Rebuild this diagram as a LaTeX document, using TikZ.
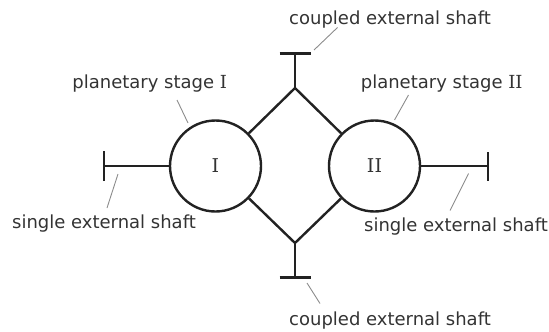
\documentclass[tikz,border=0pt]{standalone}
\usepackage{fontspec}
\setmainfont{DejaVu Sans}
\newfontfamily\numeralfont{DejaVu Serif}
\newcommand\RomI{{\numeralfont I}}
\definecolor{inkdark}{HTML}{222222}
\definecolor{textgray}{HTML}{333333}
\definecolor{leadergray}{HTML}{8C8C8C}
\begin{document}
\begin{tikzpicture}[x=1pt,y=-1pt,
  shaftline/.style={draw=inkdark,line width=2.4pt},
  stage/.style={circle,draw=inkdark,line width=2.4pt,minimum size=91pt,inner sep=0pt,
    text=textgray,font=\numeralfont\fontsize{19}{21}\selectfont},
  tag/.style={anchor=base,text=textgray,inner sep=0pt,font=\fontsize{18}{20}\selectfont},
  leader/.style={draw=leadergray,line width=0.9pt}]
\useasboundingbox (0,0) rectangle (549,332);

% the two planetary stages
\node[stage] (s1) at (215.5,166) {I};
\node[stage] (s2) at (374.5,166) {II};

% coupling points of the diamond
\coordinate (top) at (295,88);
\coordinate (bot) at (295,243);
\draw[shaftline] (s1) -- (top) -- (s2);
\draw[shaftline] (s1) -- (bot) -- (s2);

% coupled external shafts
\coordinate (topend) at (295,53.5);
\coordinate (botend) at (295,277.5);
\draw[shaftline] (top) -- (topend);
\draw[shaftline] (bot) -- (botend);
\draw[shaftline] ([xshift=-15.5pt]topend) -- ([xshift=16pt]topend);
\draw[shaftline] ([xshift=-15.5pt]botend) -- ([xshift=16pt]botend);

% single external shafts
\coordinate (leftend) at (104,166);
\coordinate (rightend) at (488,166);
\draw[shaftline] (s1.west) -- (leftend);
\draw[shaftline] (s2.east) -- (rightend);
\draw[shaftline] ([yshift=-15pt]leftend) -- ([yshift=15pt]leftend);
\draw[shaftline] ([yshift=-14.5pt]rightend) -- ([yshift=14.5pt]rightend);

% labels
\node[tag] (ltop) at (390,24) {coupled external shaft};
\node[tag] (lbot) at (390,325) {coupled external shaft};
\node[tag] (lleft) at (104,228) {single external shaft};
\node[tag] (lright) at (456,231.5) {single external shaft};
\node[tag] (lst1) at (149.7,88) {planetary stage \RomI};
\node[tag] (lst2) at (441.7,88) {planetary stage \RomI\RomI};

% leader lines
\coordinate (a1) at (337.5,27.5);  \coordinate (a2) at (314,50);
\coordinate (b1) at (307,283);     \coordinate (b2) at (320,303.5);
\coordinate (c1) at (118,174);     \coordinate (c2) at (107,208);
\coordinate (d1) at (468.5,173.5); \coordinate (d2) at (450,210.5);
\coordinate (e1) at (177,100);     \coordinate (e2) at (188,123);
\coordinate (f1) at (408.5,95);    \coordinate (f2) at (394.5,120);
\draw[leader] (a1) -- (a2);
\draw[leader] (b1) -- (b2);
\draw[leader] (c1) -- (c2);
\draw[leader] (d1) -- (d2);
\draw[leader] (e1) -- (e2);
\draw[leader] (f1) -- (f2);
\end{tikzpicture}
\end{document}
